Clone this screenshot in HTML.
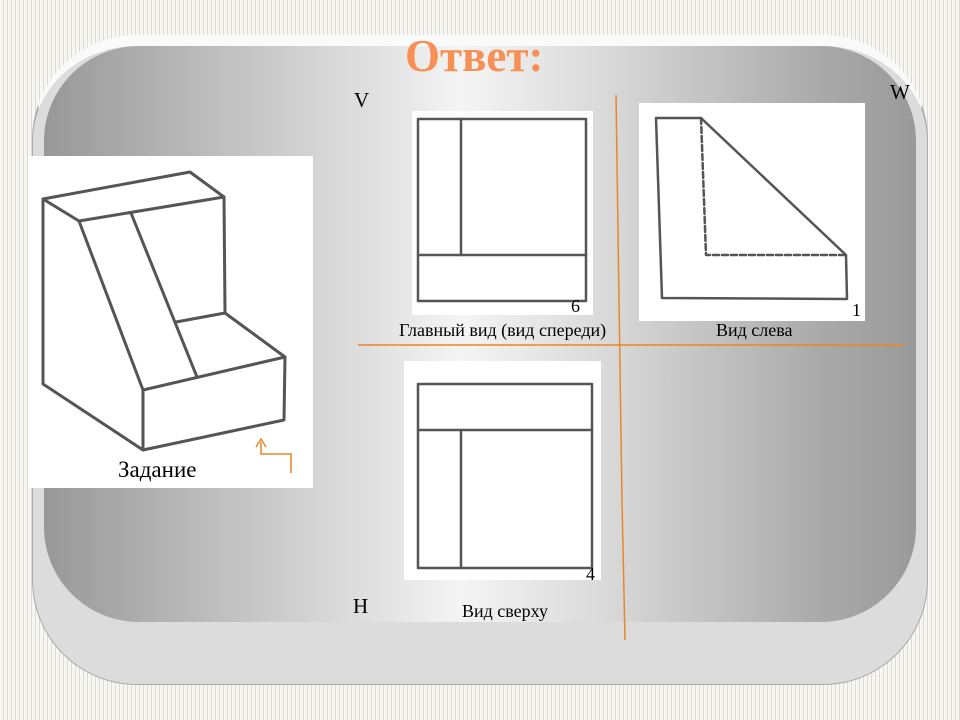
<!DOCTYPE html>
<html><head><meta charset="utf-8"><style>
body{margin:0;width:960px;height:720px;overflow:hidden;position:relative;
background:#f3f3ee repeating-linear-gradient(90deg,#f6f6f2 0 3px,#dcdcd2 3px 4px);font-family:"Liberation Serif",serif;}
.outer{position:absolute;left:32px;top:35px;width:896px;height:650px;border-radius:105px;background:#dcdcdc;border:1px solid #aaa;border-top:11px solid #fafafa;box-sizing:border-box;}
.inner{position:absolute;left:44px;top:46px;width:872px;height:576px;border-radius:95px;
background:linear-gradient(90deg,#989898 0%,#c8c8c8 25%,#f4f4f4 48%,#d8d8d8 65%,#a8a8a8 90%,#9a9a9a 100%);}
.t{position:absolute;white-space:nowrap;color:#000}
.w{position:absolute;background:#fff}
</style></head><body>
<div class="outer"></div>
<div class="inner"></div>
<div class="t" style="left:405px;top:30px;font-size:45px;font-weight:bold;color:#f79055">Ответ:</div>
<div class="t" style="left:354px;top:88px;font-size:21px">V</div>
<div class="t" style="left:890px;top:80px;font-size:21px">W</div>
<div class="t" style="left:353px;top:594px;font-size:21px">H</div>
<div class="w" style="left:28px;top:156px;width:285px;height:332px"></div>
<div class="w" style="left:412px;top:111px;width:181px;height:204px"></div>
<div class="w" style="left:639px;top:103px;width:226px;height:218px"></div>
<div class="w" style="left:404px;top:361px;width:197px;height:219px"></div>
<svg style="position:absolute;left:0;top:0" width="960" height="720">
<g stroke="#555" stroke-width="3" fill="none" stroke-linejoin="round" stroke-linecap="round">
<polyline points="43,199 190,172 224,197 79,221 43,199 43,384 143,450 284,420 285,357 225,313 224,197"/>
<line x1="79" y1="221" x2="143" y2="390"/>
<line x1="131" y1="213" x2="197" y2="377"/>
<polyline points="143,450 143,390 285,357"/>
<line x1="176" y1="322" x2="225" y2="313"/>
<rect x="418" y="119" width="168" height="182" stroke-width="2.5"/>
<line x1="461" y1="119" x2="461" y2="255" stroke-width="2.5"/>
<line x1="418" y1="255" x2="586" y2="255" stroke-width="2.5"/>
<polygon points="656,118 701,118 846,255 847,299 662,298" stroke-width="2.5"/>
<polyline points="701,118 706,255 846,255" stroke-width="2.5" stroke-dasharray="6,3"/>
<rect x="418" y="384" width="174" height="184" stroke-width="2.5"/>
<line x1="418" y1="430" x2="592" y2="430" stroke-width="2.5"/>
<line x1="461" y1="430" x2="461" y2="568" stroke-width="2.5"/>
</g>
<g stroke="#e8862a" stroke-width="1.5" fill="none">
<line x1="358" y1="345" x2="905" y2="345"/>
<polyline points="616,95 619,300 622,500 625,640"/>
<polyline points="291,473 291,454 261,454 261,442"/>
<polyline points="256,447 261,439 266,447"/>
</g>
</svg>
<div class="t" style="left:118px;top:457px;font-size:23px">Задание</div>
<div class="t" style="left:571px;top:296px;font-size:18px">6</div>
<div class="t" style="left:852px;top:300px;font-size:18px">1</div>
<div class="t" style="left:586px;top:564px;font-size:18px">4</div>
<div class="t" style="left:399px;top:320px;font-size:18px">Главный вид (вид спереди)</div>
<div class="t" style="left:716px;top:320px;font-size:18px">Вид слева</div>
<div class="t" style="left:462px;top:601px;font-size:18px">Вид сверху</div>
</body></html>
